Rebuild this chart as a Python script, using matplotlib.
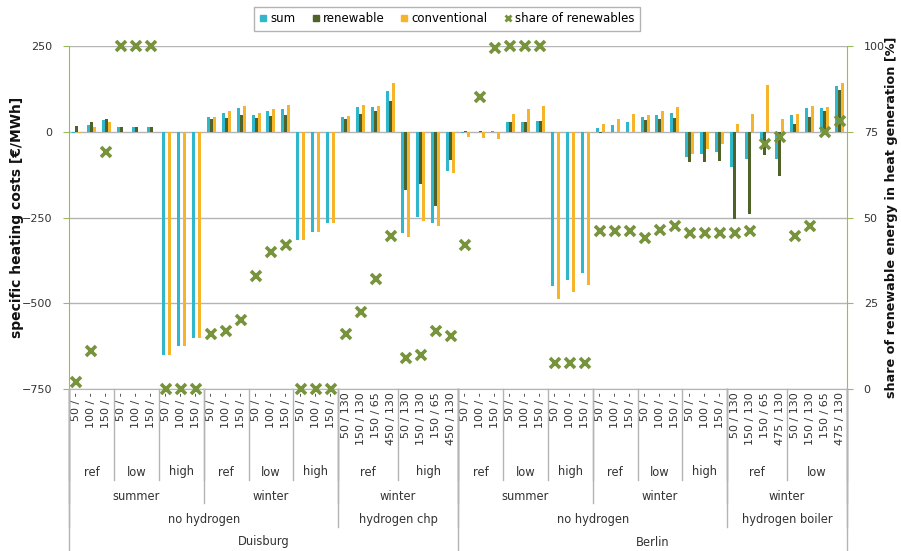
import numpy as np
import matplotlib.pyplot as plt
from matplotlib.lines import Line2D
from matplotlib.transforms import blended_transform_factory

# specific heating costs [€/MWh] per scenario
sum_cost = [-3, 20, 34, 15, 15, 15, -650, -625, -601,
            42, 56, 70, 50, 60, 66, -315, -292, -266,
            42, 73, 71, 119, -294, -249, -265, -115,
            -3, -2, 2, 27, 29, 31, -451, -431, -412,
            10, 19, 27, 42, 48, 56, -74, -66, -58,
            -102, -80, -25, -80, 48, 70, 68, 133]
renewable = [18, 27, 36, 15, 15, 15, 0, 0, 0,
             37, 39, 48, 39, 47, 50, 0, 0, 0,
             36, 53, 60, 89, -170, -153, -216, -82,
             3, 2, 0, 27, 29, 31, 0, 0, 0,
             -3, 0, 0, 34, 36, 39, -89, -87, -85,
             -255, -239, -68, -128, 22, 44, 60, 121]
conventional = [-5, 14, 29, 0, 0, 0, -652, -625, -600,
                42, 61, 76, 56, 66, 78, -315, -292, -266,
                45, 78, 75, 143, -307, -259, -276, -121,
                -15, -17, -20, 53, 65, 75, -487, -467, -446,
                22, 36, 51, 50, 60, 71, -66, -50, -37,
                22, 53, 136, 36, 51, 75, 73, 143]
# share of renewables [%]
share = [2, 11, 69, 100, 100, 100, 0, 0, 0,
         16, 17, 20, 33, 40, 42, 0, 0, 0,
         16, 22.5, 32, 44.5, 9, 10, 17, 15.5,
         42, 85, 99.5, 100, 100, 100, 7.5, 7.5, 7.5,
         46, 46, 46, 44, 46.5, 47.5, 45.5, 45.5, 45.5,
         45.5, 46, 71.5, 73.5, 44.5, 47.5, 75, 78]

# category labels, innermost first
t3 = ["50 / -", "100 / -", "150 / -"]
chp = ["50 / 130", "150 / 130", "150 / 65", "450 / 130"]
boiler = ["50 / 130", "150 / 130", "150 / 65", "475 / 130"]
level1 = t3 * 6 + chp * 2 + t3 * 6 + boiler * 2
level2 = [("ref", 3), ("low", 3), ("high", 3), ("ref", 3), ("low", 3), ("high", 3),
          ("ref", 4), ("high", 4),
          ("ref", 3), ("low", 3), ("high", 3), ("ref", 3), ("low", 3), ("high", 3),
          ("ref", 4), ("low", 4)]
level3 = [("summer", 9), ("winter", 9), ("winter", 8),
          ("summer", 9), ("winter", 9), ("winter", 8)]
level4 = [("no hydrogen", 18), ("hydrogen chp", 8),
          ("no hydrogen", 18), ("hydrogen boiler", 8)]
level5 = [("Duisburg", 26), ("Berlin", 26)]

c_sum = "#31b7cc"
c_ren = "#4f6228"
c_con = "#f6b42a"
c_share = "#77933c"
c_axis = "#9bbb59"
c_grid = "#b4b4b4"
c_text = "#333333"

plt.rcParams["font.family"] = "DejaVu Sans"
plt.rcParams["font.size"] = 8

W, H = 901, 551
fig = plt.figure(figsize=(W / 100, H / 100), dpi=100)
left, right, top, bottom = 69, 847, 46, 389
ax = fig.add_axes([left / W, 1 - bottom / H, (right - left) / W, (bottom - top) / H])

n = len(sum_cost)
x = np.arange(n) + 0.5
bw = 0.2
ax.bar(x - bw, sum_cost, bw, color=c_sum, zorder=3)
ax.bar(x, renewable, bw, color=c_ren, zorder=3)
ax.bar(x + bw, conventional, bw, color=c_con, zorder=3)

ax.set_xlim(0, n)
ax.set_ylim(-750, 250)
ax.set_yticks([-750, -500, -250, 0, 250])
ax.yaxis.grid(True, color=c_grid, lw=1, zorder=0)
ax.set_axisbelow(True)
ax.set_xticks([])
ax.tick_params(axis="y", colors=c_axis, labelcolor=c_text, length=4, direction="out", pad=8)
ax.spines["top"].set_visible(False)
ax.spines["right"].set_visible(False)
ax.spines["left"].set_color(c_axis)
ax.spines["bottom"].set_color(c_grid)

ax2 = ax.twinx()
ax2.plot(x, share, "x", ms=7, mew=2.6, color=c_share, zorder=5, clip_on=False)
ax2.set_ylim(0, 100)
ax2.set_yticks([0, 25, 50, 75, 100])
ax2.tick_params(axis="y", colors=c_axis, labelcolor=c_text, length=4, direction="out", pad=8)
for s in ["top", "left", "bottom"]:
    ax2.spines[s].set_visible(False)
ax2.spines["right"].set_color(c_axis)


def fy(py):
    return 1 - py / H


mid = fy((top + bottom) / 2)
fig.text(17 / W, mid, "specific heating costs [€/MWh]", rotation=90, ha="center",
         va="center", fontsize=10, fontweight="bold", color="#111111")
fig.text(892 / W, mid, "share of renewable energy in heat generation [%]", rotation=90,
         ha="center", va="center", fontsize=9.2, fontweight="bold", color="#111111")

# multi-level category axis below the plot
tr = blended_transform_factory(ax.transData, fig.transFigure)

for i, lab in enumerate(level1):
    ax.text(i + 0.5, fy(392), lab, rotation=90, ha="center", va="top",
            transform=tr, color=c_text, fontsize=8)

levels = [(level2, 472, 480), (level3, 496, 503), (level4, 519, 527), (level5, 542, 550)]
for groups, ty, ly in levels:
    pos = 0
    for lab, cnt in groups:
        ax.text(pos + cnt / 2, fy(ty), lab, ha="center", va="center",
                transform=tr, color=c_text, fontsize=8.3)
        fig.add_artist(Line2D([pos, pos], [fy(bottom), fy(ly)], transform=tr,
                              color=c_grid, lw=1))
        pos += cnt
    fig.add_artist(Line2D([pos, pos], [fy(bottom), fy(ly)], transform=tr,
                          color=c_grid, lw=1))

handles = [
    Line2D([], [], ls="none", marker="s", ms=5, color=c_sum),
    Line2D([], [], ls="none", marker="s", ms=5, color=c_ren),
    Line2D([], [], ls="none", marker="s", ms=5, color=c_con),
    Line2D([], [], ls="none", marker="x", ms=5, mew=2, color=c_share),
]
leg = fig.legend(handles, ["sum", "renewable", "conventional", "share of renewables"],
                 loc="center", bbox_to_anchor=(447 / W, fy(19)), ncol=4, fontsize=8.5,
                 frameon=True, fancybox=False, shadow=False, handlelength=0.6,
                 handletextpad=0.3, columnspacing=1.4, borderpad=0.45)
leg.get_frame().set_edgecolor("#a0a0a0")
leg.get_frame().set_linewidth(1)

fig.savefig("out.png", dpi=100)
